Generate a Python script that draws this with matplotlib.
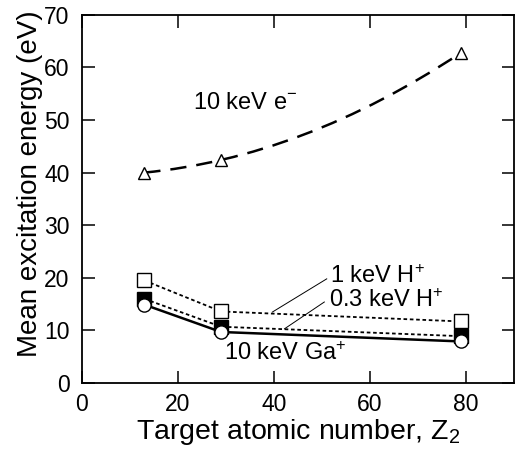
import numpy as np
import matplotlib
matplotlib.use("Agg")
import matplotlib.pyplot as plt
from matplotlib.path import Path
from matplotlib.patches import PathPatch

plt.rcParams['font.family'] = ['Liberation Sans', 'DejaVu Sans']
plt.rcParams['mathtext.fontset'] = 'custom'
plt.rcParams['mathtext.rm'] = 'Liberation Sans'
plt.rcParams['mathtext.it'] = 'Liberation Sans:italic'

# -------------------------------
# Données
# -------------------------------
z2 = [13, 29, 79]
e_10kev = [40.0, 42.4, 62.8]
h_1kev = [19.5, 13.6, 11.7]
h_03kev = [16.0, 10.7, 8.9]
ga_10kev = [14.9, 9.7, 7.9]

labels = ["10 keV e$^{-}$", "1 keV H$^{+}$", "0.3 keV H$^{+}$", "10 keV Ga$^{+}$"]

# -------------------------------
# Figure
# -------------------------------
fig = plt.figure(figsize=(5.15, 4.49), dpi=100)
ax = fig.add_axes([0.159, 0.147, 0.839, 0.820])

# courbe lisse pour les électrons : parabole exacte par les 3 points,
# tracée comme une courbe de Bézier quadratique
c = np.polyfit(z2, e_10kev, 2)
x0, x2 = z2[0], z2[-1]
y0, y2 = np.polyval(c, x0), np.polyval(c, x2)
slope0 = np.polyval(np.polyder(c), x0)
xm = (x0 + x2) / 2
ym = y0 + slope0 * (xm - x0)
path = Path([(x0, y0), (xm, ym), (x2, y2)], [Path.MOVETO, Path.CURVE3, Path.CURVE3])
ax.add_patch(PathPatch(path, fill=False, color="black", lw=1.8,
                       linestyle=(0, (6.5, 4)), zorder=2))
ax.plot(z2, e_10kev, ls="none", marker="^", ms=9, mfc="white", mec="black",
        mew=1.0, zorder=4)

ax.plot(z2, h_1kev, color="black", lw=1.3, ls=(0, (2, 1.5)), marker="s", ms=9.5,
        mfc="white", mec="black", mew=1.0, zorder=3)
ax.plot(z2, h_03kev, color="black", lw=1.3, ls=(0, (2, 1.5)), marker="s", ms=9.5,
        mfc="black", mec="black", mew=1.0, zorder=3)
ax.plot(z2, ga_10kev, color="black", lw=1.8, ls="-", marker="o", ms=9.5,
        mfc="white", mec="black", mew=1.0, zorder=4)

# étiquettes et traits de rappel
fs = 17
ax.text(23.1, 52.0, labels[0], fontsize=fs, ha="left", va="baseline")
ax.text(51.6, 19.0, labels[1], fontsize=fs, ha="left", va="baseline")
ax.text(51.4, 14.5, labels[2], fontsize=fs, ha="left", va="baseline")
ax.text(29.7, 4.3, labels[3], fontsize=fs, ha="left", va="baseline")
ax.plot([51.0, 39.7], [19.8, 13.5], color="black", lw=0.7)
ax.plot([50.5, 42.2], [15.4, 10.3], color="black", lw=0.7)

ax.set_xlim(0, 90)
ax.set_ylim(0, 70)
ax.set_xticks([0, 20, 40, 60, 80])
ax.set_yticks(range(0, 71, 10))
ax.tick_params(direction="in", length=9, width=1.1, labelsize=16.5,
               top=True, right=True)
ax.tick_params(axis="y", pad=9)
ax.tick_params(axis="x", pad=7)
for s in ax.spines.values():
    s.set_linewidth(1.3)

ax.set_xlabel("Target atomic number, Z$_2$", fontsize=20.5, labelpad=1)
ax.set_ylabel("Mean excitation energy (eV)", fontsize=20, labelpad=3)
ax.yaxis.set_label_coords(-0.09, 0.54)

fig.savefig("out.png", dpi=100)
